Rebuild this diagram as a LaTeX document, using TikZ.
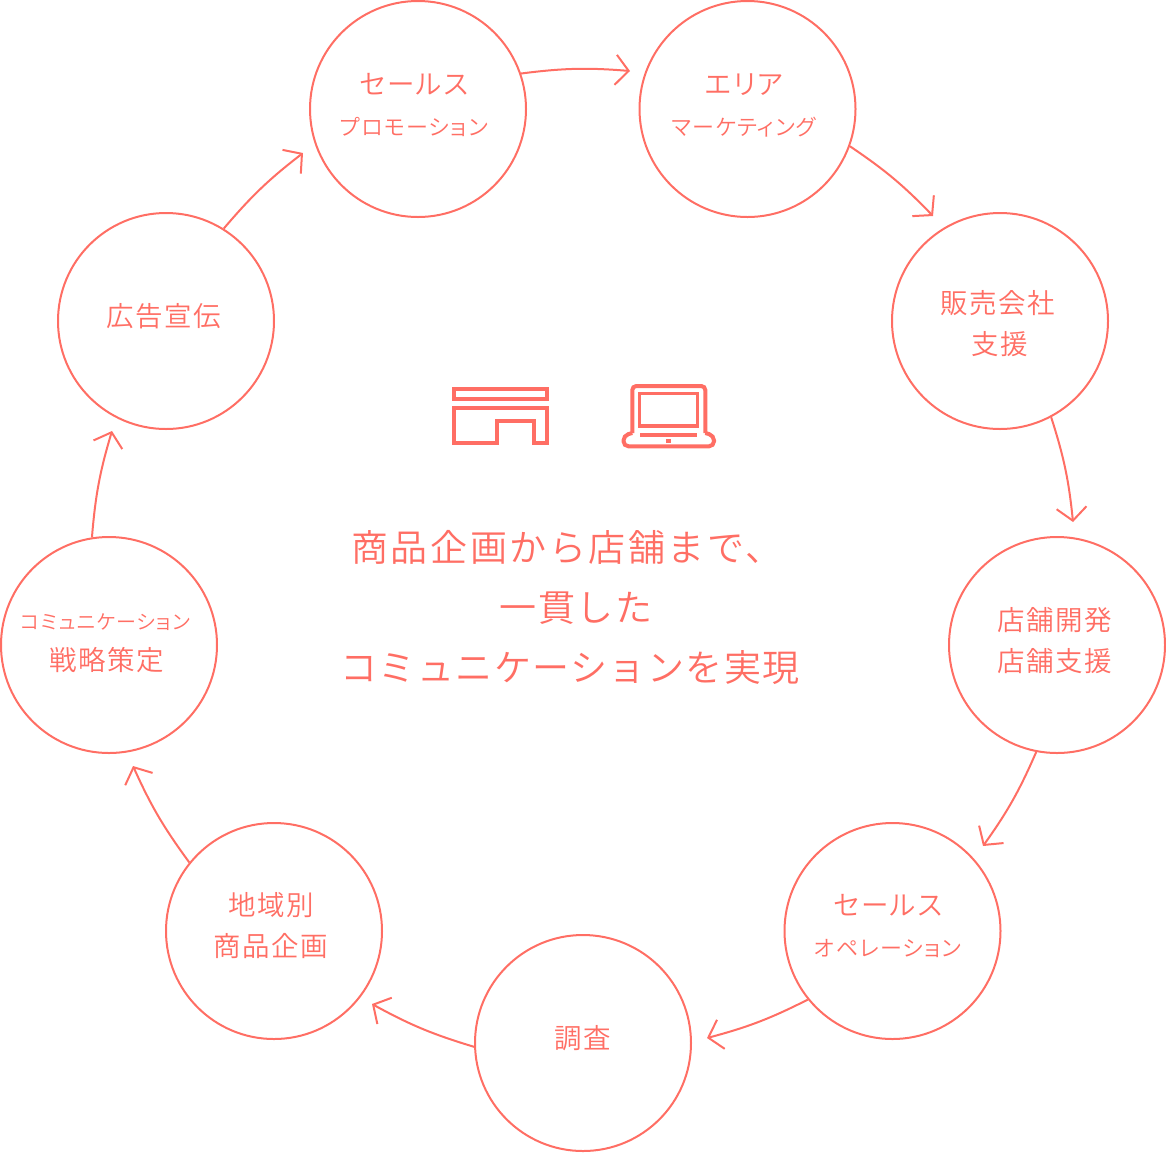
\documentclass[tikz,border=0pt]{standalone}
\usepackage{fontspec}
\setmainfont{Noto Sans CJK JP}[UprightFont=* DemiLight]
\newfontfamily\leadfont{Noto Sans CJK JP}[UprightFont=* DemiLight,LetterSpace=4]
\newfontfamily\leadwidefont{Noto Sans CJK JP}[UprightFont=* DemiLight,LetterSpace=7]
\newfontfamily\spotfont{Noto Sans CJK JP}[UprightFont=* DemiLight,LetterSpace=6,RawFeature=+palt]
\usetikzlibrary{arrows.meta}
\definecolor{coral}{HTML}{FF6E64}
\newcommand{\mainfs}{\spotfont\fontsize{27.5}{41}\selectfont}
\newcommand{\subfs}{\spotfont\fontsize{22}{41}\selectfont}
\newcommand{\tinyfs}{\spotfont\fontsize{20}{41}\selectfont}
\begin{document}
\begin{tikzpicture}[x=1pt,y=-1pt]
    \tikzstyle{spot} = [draw=coral,circle,line width=2pt,minimum size=216pt,inner sep=0pt]
    \tikzstyle{lbl} = [text=coral,align=center,inner sep=0pt,font=\mainfs]
    \tikzstyle{flow} = [draw=coral,line width=2pt,bend left=6,-{Straight Barb[length=13pt,width=30pt,line width=2pt]}]
    \tikzstyle{icon} = [draw=coral,line width=4pt,line join=miter]
    \useasboundingbox (0,0) rectangle (1166,1152);
    \node [spot] (promo) at (418,109) {};
    \node [spot] (area) at (747.5,109) {};
    \node [spot] (dealer) at (1000,321) {};
    \node [spot] (store) at (1057,645) {};
    \node [spot] (oper) at (892.5,931) {};
    \node [spot] (survey) at (583,1043) {};
    \node [spot] (plan) at (274,931) {};
    \node [spot] (comm) at (109,645) {};
    \node [spot] (ads) at (166,321) {};
    \node [lbl] (promot) at (414,105) {セールス\\{\subfs プロモーション}};
    \node [lbl] (areat) at (744,105) {エリア\\{\subfs マーケティング}};
    \node [lbl] (dealert) at (997.5,324) {販売会社\\\hspace*{4pt}支援};
    \node [lbl] (storet) at (1055,641) {店舗開発\\店舗支援};
    \node [lbl] (opert) at (888,926) {セールス\\{\subfs オペレーション}};
    \node [lbl] (surveyt) at (583,1038) {調査};
    \node [lbl] (plant) at (271,926) {地域別\\商品企画};
    \node [lbl] (commt) at (105.5,643) {{\tinyfs コミュニケーション}\\\hspace*{2pt}戦略策定};
    \node [lbl] (adst) at (164,316) {広告宣伝};
    \node [text=coral,align=center,inner sep=0pt,font=\leadfont\fontsize{37}{60}\selectfont] (lead) at (572,607)
      {{\leadwidefont 商品企画から店舗まで、}\hspace*{10pt}\\\hspace*{8pt}一貫した\\コミュニケーションを実現\hspace*{4pt}};
    \coordinate (a1) at (630,71);
    \coordinate (a2) at (933,216);
    \coordinate (a3) at (1073,522);
    \coordinate (a4) at (983,846);
    \coordinate (a5) at (707,1038);
    \coordinate (a6) at (372,1004);
    \coordinate (a7) at (133,766);
    \coordinate (a8) at (112,431);
    \coordinate (a9) at (303,153);
    \path [flow] (promo.19) to (a1);
    \path [flow] (area.-20) to (a2);
    \path [flow] (dealer.-62) to (a3);
    \path [flow] (store.-101) to (a4);
    \path [flow] (oper.-141) to (a5);
    \path [flow] (survey.182) to (a6);
    \path [flow] (plan.141) to (a7);
    \path [flow] (comm.99) to (a8);
    \path [flow] (ads.58) to (a9);
    % store icon
    \draw [icon] (454,389.3) rectangle (546.7,398.7);
    \draw [icon] (454,407.7) -- (546.7,407.7) -- (546.7,443.3) -- (533.7,443.3) -- (533.7,420.7)
      -- (497.3,420.7) -- (497.3,443.3) -- (454,443.3) -- cycle;
    % laptop icon
    \draw [icon,rounded corners=4pt] (632.3,433) -- (632.3,386) -- (705.3,386) -- (705.3,433);
    \draw [icon,rounded corners=5pt] (632.3,433) -- (623.5,435.5) -- (623.5,446.3) -- (714,446.3) -- (714,435.5) -- (705.3,433);
    \draw [icon,line width=3.4pt] (639.5,393.3) rectangle (697.7,426);
    \fill [coral] (640,433.3) rectangle (697,436.7);
    \fill [coral] (665.7,439.3) rectangle (671,443);
\end{tikzpicture}
\end{document}
